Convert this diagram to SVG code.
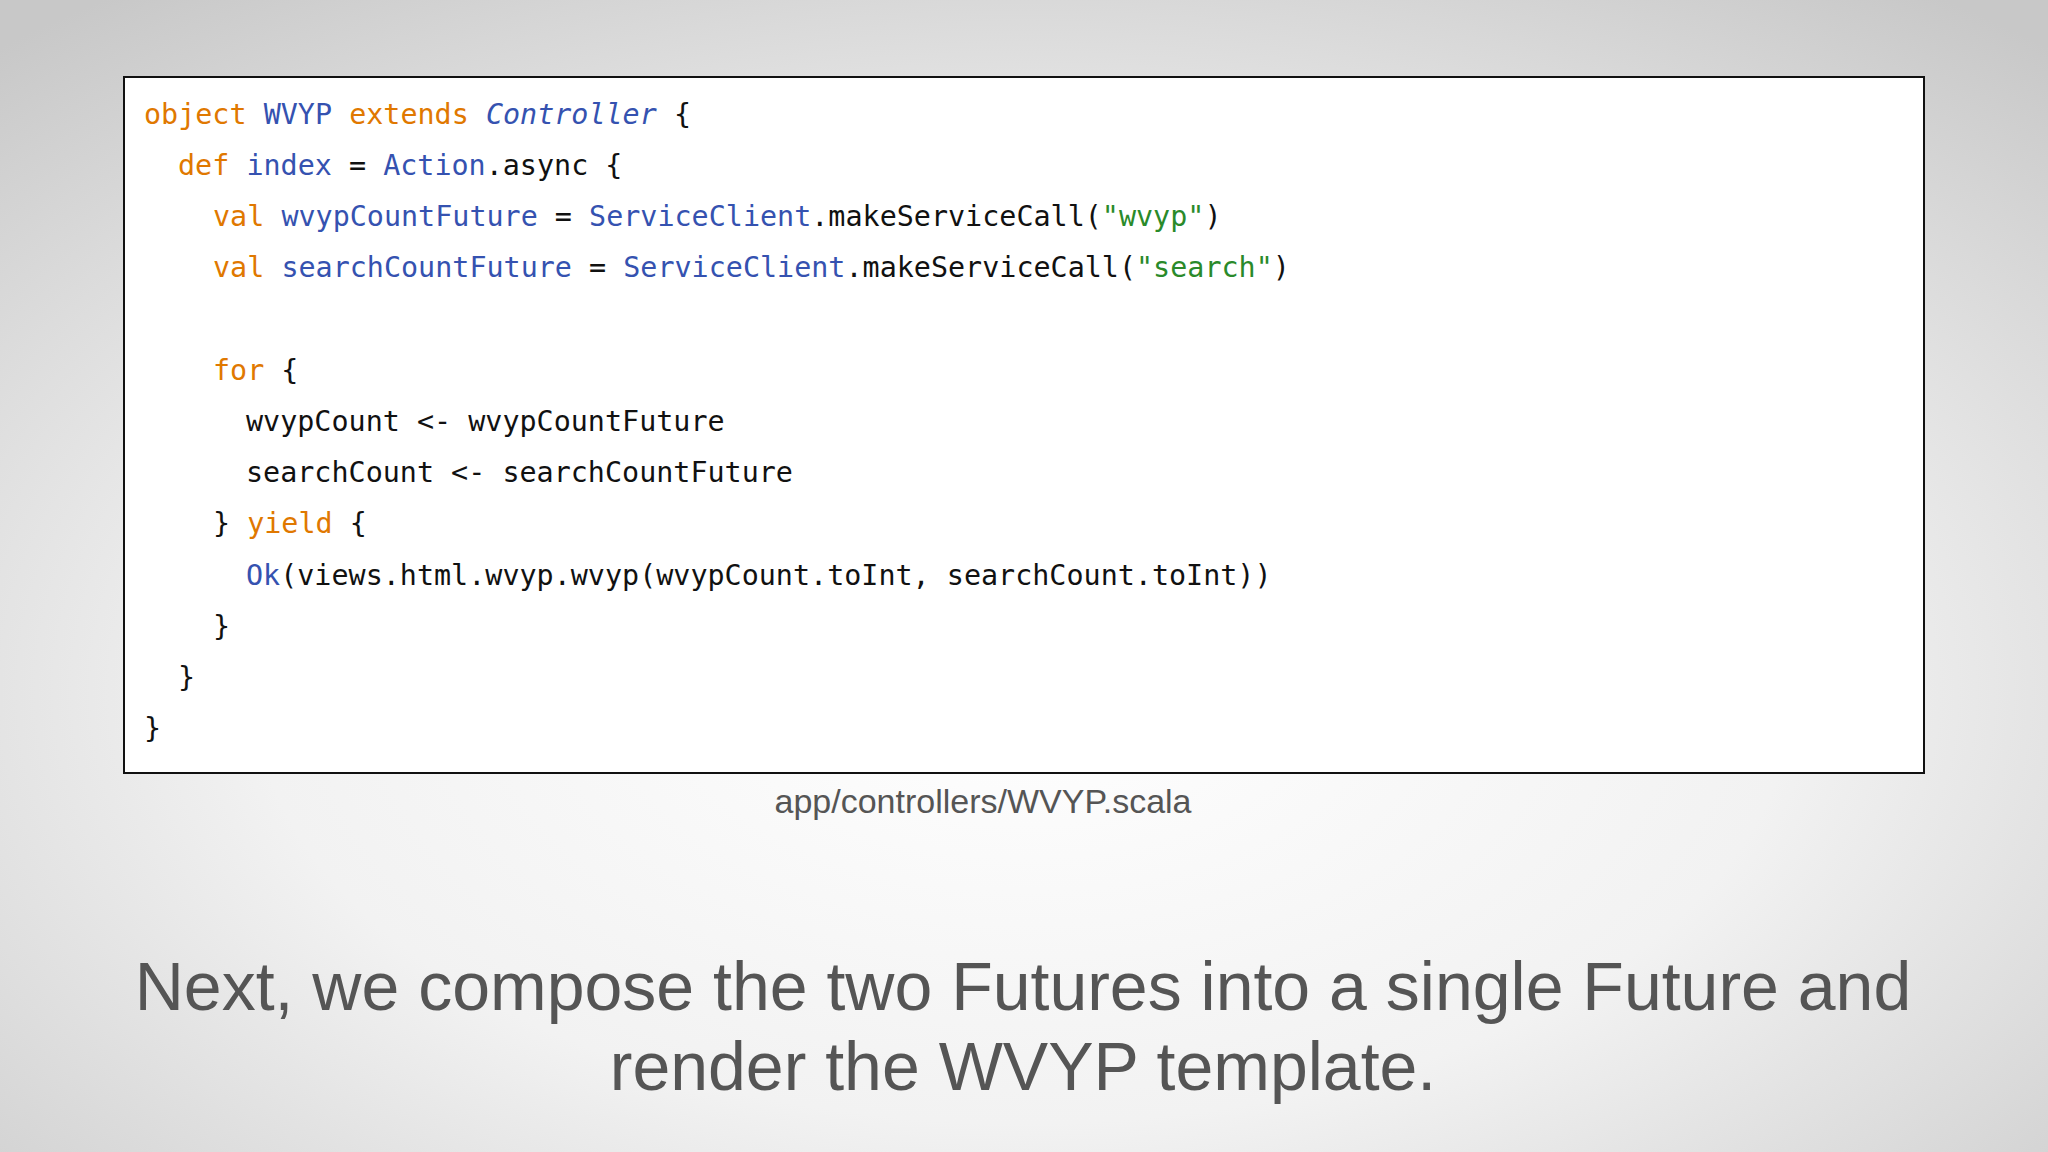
<svg xmlns="http://www.w3.org/2000/svg" width="2048" height="1152" viewBox="0 0 2048 1152">
<defs>
<radialGradient id="bg" cx="50%" cy="60%" r="75%">
<stop offset="0" stop-color="#ffffff"/><stop offset="0.5" stop-color="#f2f2f2"/><stop offset="1" stop-color="#c8c8c8"/>
</radialGradient>
<style>
.c{font-family:"DejaVu Sans Mono",monospace;font-size:28.4px;fill:#111}
.k{fill:#e07800}.b{fill:#3552b0}.g{fill:#2a8a2a}.i{font-style:italic}
.cap{font-family:"Liberation Sans",Arial,sans-serif;fill:#555;text-anchor:middle}
</style>
</defs>
<rect width="2048" height="1152" fill="url(#bg)"/>
<g id="code">
<rect x="124" y="77" width="1800" height="696" fill="#fff" stroke="#111" stroke-width="2"/>
<g class="c" xml:space="preserve">
<text x="144" y="124"><tspan class="k">object</tspan> <tspan class="b">WVYP</tspan> <tspan class="k">extends</tspan> <tspan class="b i">Controller</tspan> {</text>
<text x="178" y="175"><tspan class="k">def</tspan> <tspan class="b">index</tspan> = <tspan class="b">Action</tspan>.async {</text>
<text x="213" y="226"><tspan class="k">val</tspan> <tspan class="b">wvypCountFuture</tspan> = <tspan class="b">ServiceClient</tspan>.makeServiceCall(<tspan class="g">"wvyp"</tspan>)</text>
<text x="213" y="277"><tspan class="k">val</tspan> <tspan class="b">searchCountFuture</tspan> = <tspan class="b">ServiceClient</tspan>.makeServiceCall(<tspan class="g">"search"</tspan>)</text>
<text x="213" y="380"><tspan class="k">for</tspan> {</text>
<text x="246" y="431">wvypCount &lt;- wvypCountFuture</text>
<text x="246" y="482">searchCount &lt;- searchCountFuture</text>
<text x="213" y="533">} <tspan class="k">yield</tspan> {</text>
<text x="246" y="585"><tspan class="b">Ok</tspan>(views.html.wvyp.wvyp(wvypCount.toInt, searchCount.toInt))</text>
<text x="213" y="636">}</text>
<text x="178" y="687">}</text>
<text x="144" y="738">}</text>
</g>
</g>
<text class="cap" x="983" y="813" font-size="34">app/controllers/WVYP.scala</text>
<text class="cap" x="1023" y="1010" font-size="68">Next, we compose the two Futures into a single Future and</text>
<text class="cap" x="1023" y="1090" font-size="68">render the WVYP template.</text>
</svg>
